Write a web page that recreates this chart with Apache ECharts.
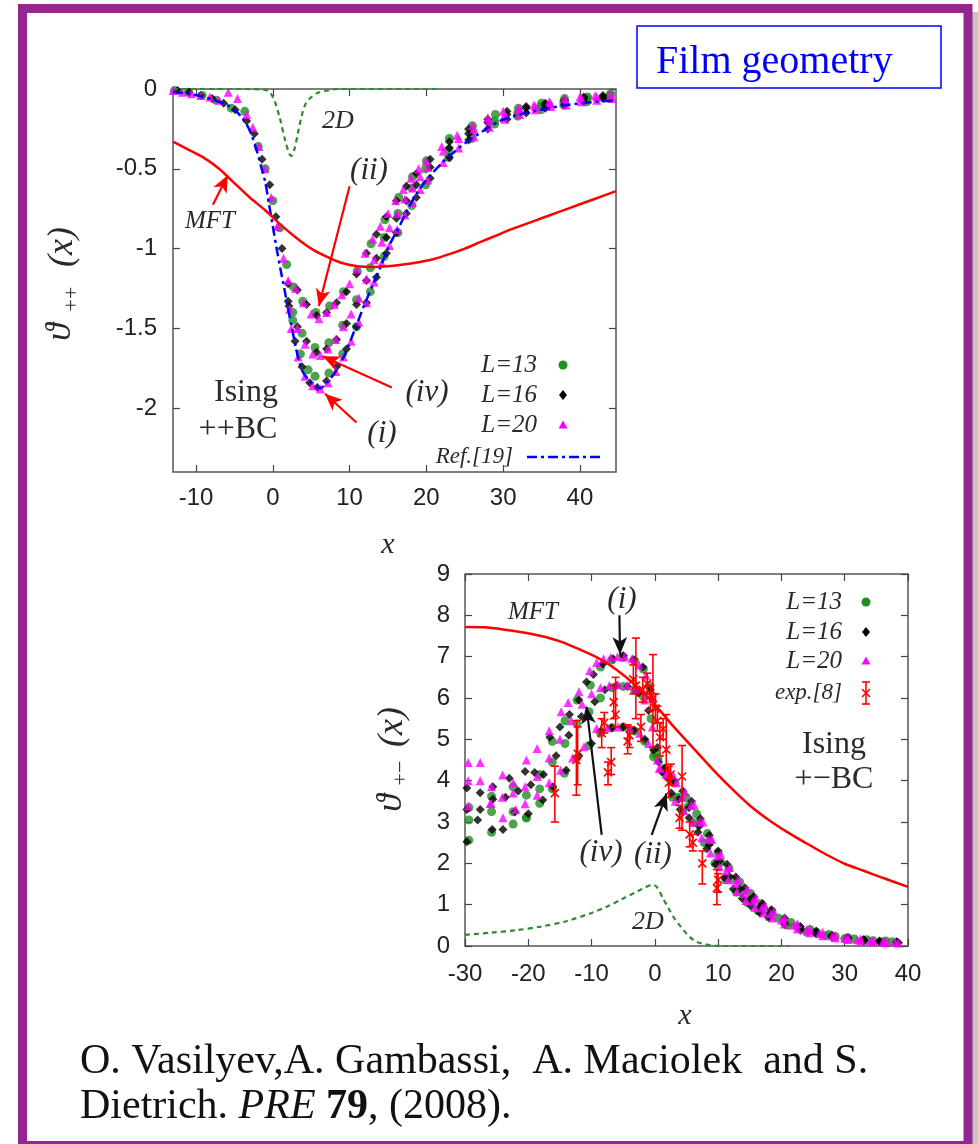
<!DOCTYPE html>
<html>
<head>
<meta charset="utf-8">
<title>Film geometry</title>
<script src="https://cdn.jsdelivr.net/npm/echarts@6/dist/echarts.min.js"></script>
<style>
  html, body { margin: 0; padding: 0; background: #fff; }
  #main { width: 978px; height: 1144px; }
</style>
</head>
<body>
<div id="main"></div>
<script>
// tick labels
const topXTicks = [-10, 0, 10, 20, 30, 40]
const topYTicks = [-2, -1.5, -1, -0.5, 0]
const botXTicks = [-30, -20, -10, 0, 10, 20, 30, 40]
const botYTicks = [0, 1, 2, 3, 4, 5, 6, 7, 8, 9]

// ---- top panel (++ BC) ----
const topMFT = [[-13,-0.33],[-11,-0.38],[-9,-0.43],[-7,-0.5],[-5,-0.59],[-3,-0.68],[-1,-0.76],[1,-0.85],[3,-0.93],[5,-1.0],[7,-1.05],[9,-1.09],[11,-1.11],[13,-1.115],[15,-1.11],[17,-1.1],[19,-1.085],[21,-1.065],[23,-1.035],[25,-1.0],[27,-0.96],[29,-0.92],[31,-0.88],[33,-0.845],[35,-0.81],[37,-0.775],[39,-0.74],[41,-0.705],[43,-0.67],[44.7,-0.64]]
const top2D = [[-13,0],[-4,0],[-1,-0.005],[-0.4,-0.02],[0.2,-0.07],[0.9,-0.18],[1.6,-0.32],[2.1,-0.4],[2.4,-0.42],[2.8,-0.38],[3.3,-0.27],[3.7,-0.18],[4.2,-0.1],[4.8,-0.06],[5.8,-0.025],[7,-0.01],[8.5,0],[21.3,0]]
const topRef19 = [[-13,-0.017],[-11,-0.03],[-9,-0.05],[-7,-0.08],[-6,-0.1],[-5,-0.13],[-4,-0.18],[-3,-0.26],[-2,-0.4],[-1.5,-0.49],[-1,-0.58],[-0.5,-0.72],[0,-0.86],[0.5,-1.0],[1,-1.13],[1.5,-1.25],[2,-1.38],[2.5,-1.5],[3,-1.62],[3.5,-1.72],[4,-1.78],[4.8,-1.83],[5.7,-1.87],[6.2,-1.875],[7,-1.84],[7.9,-1.79],[8.8,-1.72],[9.6,-1.64],[10.5,-1.53],[11.3,-1.43],[12.2,-1.32],[13.1,-1.22],[14,-1.12],[14.8,-1.02],[15.7,-0.93],[16.6,-0.85],[17.6,-0.75],[18.7,-0.66],[20,-0.57],[21.8,-0.475],[23.5,-0.4],[25.3,-0.33],[27.5,-0.26],[29.6,-0.2],[31.7,-0.165],[33.9,-0.14],[36,-0.12],[38.3,-0.1],[41,-0.085],[44.7,-0.07]]

const top13Desc = [[-12.8,-0.01],[-11.0,-0.02],[-9.2,-0.04],[-7.4,-0.07],[-5.4,-0.12],[-3.65,-0.14],[-1.9,-0.36],[-1.0,-0.5],[0.0,-0.7],[0.9,-0.87],[1.8,-1.1]]
const top13ii = [[2.7,-1.24],[3.9,-1.33],[5.6,-1.4],[7.4,-1.36],[9.2,-1.27],[11.0,-1.14],[12.8,-0.97],[14.6,-0.82],[16.4,-0.68],[18.2,-0.55],[20.0,-0.45],[23.0,-0.31],[26.0,-0.23],[29.0,-0.16],[32.0,-0.12],[35.0,-0.09],[38.0,-0.06],[41.0,-0.05],[44.0,-0.03]]
const top13iv = [[2.6,-1.4],[3.8,-1.53],[5.5,-1.62],[7.3,-1.59],[9.1,-1.48],[10.9,-1.32],[12.7,-1.12],[14.5,-0.93],[16.3,-0.78],[18.1,-0.62],[19.9,-0.5],[22.9,-0.38],[25.9,-0.27],[28.9,-0.2],[31.9,-0.15],[34.9,-0.11],[37.9,-0.08],[40.9,-0.06],[43.9,-0.04]]
const top13i = [[2.6,-1.45],[3.6,-1.66],[4.6,-1.76],[5.5,-1.8],[7.3,-1.78],[9.1,-1.66],[10.9,-1.49],[12.7,-1.27],[14.5,-1.05],[16.3,-0.9],[18.1,-0.73],[19.9,-0.6],[22.9,-0.43],[25.9,-0.31],[28.9,-0.22],[31.9,-0.17],[34.9,-0.13],[37.9,-0.1],[40.9,-0.08],[43.9,-0.06]]

const top16Desc = [[-12.4,-0.01],[-10.9,-0.02],[-9.4,-0.04],[-7.9,-0.06],[-6.4,-0.09],[-4.9,-0.13],[-3.4,-0.2],[-2.4,-0.28],[-1.4,-0.44],[-0.4,-0.6],[0.4,-0.8],[1.2,-1.0]]
const top16ii = [[2.0,-1.22],[3.2,-1.26],[4.4,-1.35],[5.7,-1.42],[7.0,-1.4],[8.3,-1.34],[9.6,-1.27],[10.9,-1.16],[12.2,-1.03],[13.5,-0.91],[14.8,-0.8],[16.1,-0.7],[17.4,-0.61],[18.7,-0.53],[20.5,-0.44],[23.0,-0.33],[25.5,-0.25],[28.0,-0.19],[30.5,-0.14],[33.0,-0.11],[35.5,-0.09],[38.0,-0.07],[40.5,-0.05],[43.0,-0.04]]
const top16iv = [[2.1,-1.36],[3.2,-1.49],[4.4,-1.58],[5.7,-1.65],[7.0,-1.63],[8.3,-1.57],[9.6,-1.47],[10.9,-1.35],[12.2,-1.2],[13.5,-1.06],[14.8,-0.93],[16.1,-0.81],[17.4,-0.7],[18.7,-0.6],[20.5,-0.49],[23.0,-0.37],[25.5,-0.28],[28.0,-0.21],[30.5,-0.16],[33.0,-0.12],[35.5,-0.1],[38.0,-0.08],[40.5,-0.06],[43.0,-0.05]]
const top16i = [[2.0,-1.33],[2.9,-1.58],[3.8,-1.74],[4.8,-1.84],[5.8,-1.87],[7.0,-1.83],[8.3,-1.74],[9.6,-1.63],[10.9,-1.49],[12.2,-1.34],[13.5,-1.18],[14.8,-1.03],[16.1,-0.9],[17.4,-0.78],[18.7,-0.68],[20.5,-0.56],[23.0,-0.43],[25.5,-0.32],[28.0,-0.25],[30.5,-0.19],[33.0,-0.15],[35.5,-0.12],[38.0,-0.1],[40.5,-0.08],[43.0,-0.06]]

const top20Desc = [[-13.0,-0.01],[-11.8,-0.02],[-10.6,-0.03],[-9.4,-0.04],[-8.2,-0.05],[-7.0,-0.07],[-5.8,-0.02],[-4.6,-0.06],[-3.4,-0.16],[-2.6,-0.24],[-1.8,-0.36],[-1.0,-0.5],[-0.2,-0.68],[0.6,-0.86],[1.4,-1.06]]
const top20ii = [[2.0,-1.2],[3.0,-1.25],[4.0,-1.34],[5.0,-1.41],[6.0,-1.44],[7.0,-1.4],[8.0,-1.35],[9.0,-1.29],[10.0,-1.22],[11.0,-1.13],[12.0,-1.03],[13.0,-0.94],[14.0,-0.86],[15.0,-0.78],[16.0,-0.7],[17.0,-0.63],[18.0,-0.56],[19.0,-0.5],[20.0,-0.45],[22.0,-0.36],[24.0,-0.29],[26.0,-0.23],[28.0,-0.18],[30.0,-0.14],[32.0,-0.12],[34.0,-0.1],[36.0,-0.08],[38.0,-0.06],[40.0,-0.05],[42.0,-0.04],[44.0,-0.03]]
const top20iv = [[2.2,-1.38],[3.2,-1.5],[4.2,-1.6],[5.2,-1.66],[6.2,-1.67],[7.2,-1.63],[8.2,-1.57],[9.2,-1.49],[10.2,-1.41],[11.2,-1.31],[12.2,-1.19],[13.2,-1.07],[14.2,-0.96],[15.2,-0.87],[16.2,-0.78],[17.2,-0.69],[18.2,-0.62],[19.2,-0.55],[20.2,-0.49],[22.2,-0.39],[24.2,-0.31],[26.2,-0.25],[28.2,-0.2],[30.2,-0.16],[32.2,-0.13],[34.2,-0.11],[36.2,-0.09],[38.2,-0.08],[40.2,-0.06],[42.2,-0.05]]
const top20i = [[2.4,-1.5],[3.3,-1.68],[4.2,-1.8],[5.2,-1.86],[6.2,-1.88],[7.2,-1.84],[8.2,-1.77],[9.2,-1.68],[10.2,-1.58],[11.2,-1.46],[12.2,-1.34],[13.2,-1.21],[14.2,-1.09],[15.2,-0.98],[16.2,-0.88],[17.2,-0.79],[18.2,-0.71],[19.2,-0.63],[20.2,-0.57],[22.2,-0.46],[24.2,-0.37],[26.2,-0.3],[28.2,-0.24],[30.2,-0.19],[32.2,-0.16],[34.2,-0.13],[36.2,-0.11],[38.2,-0.1],[40.2,-0.08],[42.2,-0.07],[44.2,-0.06]]

// ---- bottom panel (+- BC) ----
const botMFT = [[-30,7.72],[-27,7.71],[-24,7.66],[-21,7.59],[-18,7.5],[-15,7.37],[-12,7.18],[-9,6.97],[-6,6.68],[-3,6.3],[0,5.84],[3,5.3],[6,4.8],[9,4.3],[12,3.83],[15,3.4],[18,3.05],[21,2.75],[24,2.48],[27,2.22],[30,1.99],[33,1.82],[36,1.65],[40,1.43]]
const bot2D = [[-30,0.27],[-26,0.32],[-22,0.38],[-18,0.47],[-14,0.6],[-10,0.8],[-7.6,0.95],[-5,1.15],[-3,1.3],[-1.5,1.42],[-0.4,1.48],[0.3,1.43],[1.3,1.15],[2.2,0.9],[2.9,0.71],[3.7,0.54],[4.5,0.39],[5.5,0.22],[6.6,0.1],[8,0.04],[9.5,0.01],[11,0],[21.3,0]]

const bot13i = [[-29.4,3.35],[-25.8,3.62],[-22.4,3.85],[-20.3,3.65],[-18.2,4.15],[-16.2,4.95],[-14.2,5.45],[-12.3,5.95],[-10.2,6.31],[-8.6,6.75],[-6.8,6.92],[-5.0,6.98],[-3.2,6.9],[-1.8,6.7],[-0.9,6.3],[0.0,4.66],[1.5,4.3],[3.2,3.95],[4.9,3.6],[6.6,3.2],[8.3,2.72],[10.0,2.25],[11.7,1.88],[13.4,1.55],[15.1,1.27],[16.8,1.02],[18.5,0.84],[21.5,0.57],[24.5,0.4],[27.5,0.28],[30.5,0.2],[33.5,0.15],[36.5,0.12]]
const bot13iv = [[-29.4,3.05],[-25.8,3.25],[-22.4,3.25],[-20.3,3.1],[-18.2,3.8],[-16.2,4.45],[-14.2,4.9],[-12.3,5.38],[-10.4,5.67],[-8.6,6.0],[-6.8,6.25],[-5.0,6.28],[-3.2,6.18],[-1.8,6.03],[-0.6,5.5],[0.5,4.55],[2.0,4.1],[3.6,3.6],[5.3,3.38],[7.0,2.95],[8.7,2.52],[10.4,2.02],[12.1,1.62],[13.8,1.32],[15.5,1.08],[17.2,0.88],[19.5,0.68],[22.5,0.47],[25.5,0.33],[28.5,0.23],[31.5,0.17],[34.5,0.13],[37.5,0.1]]
const bot13ii = [[-29.4,2.56],[-25.8,2.75],[-22.4,2.95],[-20.3,3.1],[-18.2,3.45],[-16.2,3.8],[-14.3,4.18],[-12.3,4.55],[-10.4,4.85],[-8.6,5.15],[-6.8,5.28],[-5.0,5.3],[-3.2,5.2],[-1.6,4.95],[-0.2,4.58],[1.3,4.25],[2.8,3.6],[4.4,3.25],[6.1,2.98],[7.8,2.5],[9.5,2.0],[11.2,1.6],[12.9,1.3],[14.6,1.05],[16.3,0.85],[18.0,0.7],[21.0,0.5],[24.0,0.34],[27.0,0.25],[30.0,0.18],[33.0,0.13],[36.0,0.1]]

const bot16i = [[-29.7,3.82],[-27.6,3.71],[-25.6,3.85],[-23.0,4.06],[-20.5,4.22],[-19.0,4.2],[-16.6,5.05],[-15.0,5.3],[-13.5,5.6],[-12.0,5.95],[-10.8,6.39],[-9.7,6.57],[-8.2,6.82],[-6.6,6.95],[-5.0,7.03],[-3.4,6.93],[-1.9,6.75],[-0.7,6.2],[0.4,4.8],[1.6,4.3],[3.0,4.0],[4.4,3.75],[5.8,3.5],[7.2,3.08],[8.6,2.68],[10.0,2.3],[11.4,1.98],[12.8,1.67],[14.2,1.41],[15.6,1.2],[17.0,1.02],[18.4,0.88],[20.5,0.68],[23.0,0.47],[25.5,0.36],[28.0,0.26],[30.5,0.2],[33.0,0.16],[35.5,0.12],[38.2,0.1]]
const bot16iv = [[-29.7,3.3],[-27.6,3.3],[-25.6,3.55],[-23.6,3.6],[-21.6,3.75],[-19.6,3.9],[-17.6,4.15],[-15.6,4.6],[-13.6,5.1],[-11.6,5.55],[-9.5,5.91],[-7.9,6.2],[-6.1,6.3],[-4.3,6.28],[-2.6,6.12],[-1.0,5.7],[0.6,4.45],[2.2,4.05],[3.8,3.55],[5.4,3.35],[7.0,2.9],[8.6,2.45],[10.2,2.05],[11.8,1.68],[13.4,1.38],[15.0,1.12],[16.6,0.94],[18.2,0.79],[20.5,0.58],[23.0,0.43],[25.5,0.32],[28.0,0.23],[30.5,0.18],[33.0,0.14],[35.5,0.11],[38.2,0.09]]
const bot16ii = [[-29.7,2.52],[-28.0,3.05],[-25.7,2.82],[-24.0,2.82],[-22.1,3.25],[-20.0,3.2],[-17.7,3.53],[-16.1,3.85],[-14.0,4.25],[-12.0,4.6],[-10.0,4.9],[-8.5,5.2],[-6.8,5.28],[-5.0,5.3],[-3.3,5.22],[-1.6,5.0],[-0.2,4.74],[1.2,4.2],[2.6,3.7],[4.0,3.3],[5.4,3.1],[6.8,2.75],[8.2,2.35],[9.6,1.98],[11.0,1.66],[12.4,1.38],[13.8,1.15],[15.2,0.96],[16.6,0.8],[18.0,0.7],[20.5,0.52],[23.0,0.38],[25.5,0.29],[28.0,0.22],[30.5,0.17],[33.0,0.13],[35.5,0.1],[38.5,0.08]]

const bot20i = [[-29.5,4.44],[-27.6,4.44],[-25.8,3.85],[-24.05,4.14],[-22.4,3.95],[-20.3,4.5],[-18.6,4.78],[-16.7,5.21],[-14.8,5.67],[-13.7,5.89],[-12.0,6.15],[-10.3,6.66],[-9.2,6.86],[-8.1,6.95],[-7.0,6.98],[-5.9,7.0],[-4.8,7.0],[-3.6,6.95],[-2.5,6.8],[-1.4,6.55],[-0.4,6.0],[0.7,4.3],[2.0,4.18],[3.4,3.95],[4.8,3.72],[6.2,3.42],[7.6,3.0],[9.0,2.58],[10.4,2.22],[11.8,1.9],[13.2,1.6],[14.6,1.38],[16.0,1.16],[17.4,0.98],[18.8,0.83],[20.5,0.68],[22.5,0.54],[24.5,0.42],[26.5,0.33],[28.5,0.26],[30.5,0.21],[32.5,0.17],[34.5,0.14],[36.5,0.12]]
const bot20iv = [[-29.5,4.0],[-27.6,4.0],[-25.9,3.45],[-24.1,3.6],[-22.4,3.7],[-20.5,3.85],[-18.6,4.1],[-16.7,4.55],[-15.0,5.0],[-13.2,5.45],[-11.5,5.85],[-10.0,6.1],[-8.6,6.25],[-7.2,6.3],[-5.8,6.32],[-4.4,6.3],[-3.0,6.22],[-1.6,5.95],[-0.4,5.3],[0.8,4.3],[2.9,4.14],[4.3,3.6],[5.7,3.4],[7.1,3.0],[8.5,2.58],[9.9,2.18],[11.3,1.82],[12.7,1.52],[14.1,1.27],[15.5,1.08],[16.9,0.92],[18.3,0.78],[20.0,0.63],[22.0,0.5],[24.0,0.39],[26.0,0.3],[28.0,0.24],[30.0,0.19],[32.0,0.15],[34.0,0.12],[36.0,0.1],[38.0,0.09]]
const bot20ii = [[-29.5,3.39],[-26.0,3.45],[-24.0,3.1],[-22.0,3.3],[-20.5,3.44],[-18.6,3.65],[-16.7,3.95],[-14.9,4.25],[-13.0,4.55],[-11.2,4.82],[-9.2,5.26],[-7.5,5.28],[-5.8,5.3],[-4.0,5.28],[-2.4,5.15],[-1.0,4.9],[0.4,4.5],[1.8,4.15],[3.2,3.5],[4.6,3.28],[6.0,3.0],[7.4,2.62],[8.8,2.25],[10.2,1.92],[11.6,1.6],[13.0,1.32],[14.4,1.1],[15.8,0.93],[17.2,0.8],[18.6,0.68],[20.5,0.53],[22.5,0.41],[24.5,0.32],[26.5,0.25],[28.5,0.2],[30.5,0.16],[32.5,0.12],[34.5,0.1],[36.5,0.08],[38.5,0.07]]

// exp.[8]: x, value, lower end, upper end
const expData = [[-15.8,3.7,3.0,4.35],[-12.4,4.5,3.65,5.45],[-12.2,4.65,3.9,5.3],[-8.4,5.15,4.8,5.5],[-8.0,5.4,5.15,5.65],[-7.4,4.2,3.9,4.45],[-6.9,4.45,4.15,4.8],[-6.5,5.9,5.5,6.3],[-6.2,5.6,5.3,6.5],[-4.3,4.95,4.65,5.35],[-4.0,5.1,4.8,5.3],[-3.4,6.45,6.1,6.8],[-3.0,6.3,5.5,7.45],[-2.2,5.3,4.95,5.6],[-1.9,6.2,5.9,6.5],[-1.2,6.35,6.1,6.6],[-0.7,6.05,5.7,6.3],[-0.3,6.0,4.8,7.05],[0.1,5.75,5.4,6.1],[0.4,5.45,5.2,5.8],[0.8,5.05,4.6,5.4],[1.3,5.25,5.0,5.5],[1.8,4.75,4.25,5.6],[2.2,3.95,3.6,4.35],[2.5,4.15,3.9,4.4],[3.9,3.1,2.85,3.4],[4.3,4.1,2.8,4.85],[5.5,2.7,2.4,3.0],[6.0,2.5,2.3,2.7],[7.5,2.0,1.5,2.3],[9.8,1.4,1.0,1.85],[10.0,1.6,1.3,1.75]]

// annotation arrows [from, to] in data units
const topArrows = [[[-7.8,-0.725],[-5.87,-0.54]],[[10.0,-0.61],[6.0,-1.36]],[[15.5,-1.87],[6.5,-1.675]],[[10.9,-2.09],[6.8,-1.91]]]
const botArrows = [[[-5.6,8.0],[-5.5,7.06]],[[-8.4,2.69],[-10.8,5.79]],[[-0.5,2.69],[1.86,3.69]]]

const GREEN = '#1f8f1f'
const MAGENTA = '#ff00ff'
const RED = '#ff0000'
const BLUE = '#0000ff'
const DASHGREEN = '#2e8b2e'
const SANS = 'Liberation Sans, Arial, sans-serif'
const SERIF = 'Liberation Serif, Times New Roman, serif'

function valAxis(grid, pos, min, max, ticks, showLabel, margin) {
  return {
    type: 'value', gridIndex: grid, position: pos, min: min, max: max,
    axisLine: { show: false, onZero: false },
    splitLine: { show: false },
    axisTick: { show: true, inside: true, length: 7, lineStyle: { color: '#444', width: 1.2 }, customValues: ticks },
    axisLabel: { show: showLabel, customValues: ticks, margin: margin, color: '#222', fontSize: 24, fontFamily: SANS },
  }
}

function arrowLines(list, color) {
  return {
    silent: true,
    symbol: ['none', 'arrow'],
    symbolSize: [11, 17],
    label: { show: false },
    lineStyle: { color: color, width: 2.2, type: 'solid' },
    data: list.map(a => [{ coord: a[0] }, { coord: a[1] }]),
  }
}

function scatter(name, xi, yi, data, symbol, color, size) {
  return {
    name: name, type: 'scatter', xAxisIndex: xi, yAxisIndex: yi,
    data: data, symbol: symbol, symbolSize: size,
    itemStyle: { color: color }, z: 3,
  }
}

function line(name, xi, yi, data, color, width, dash, z) {
  return {
    name: name, type: 'line', xAxisIndex: xi, yAxisIndex: yi,
    data: data, smooth: 0.3, showSymbol: false, symbol: 'none',
    lineStyle: { color: color, width: width, type: dash }, z: z,
  }
}

function renderErr(params, api) {
  const p = api.coord([api.value(0), api.value(1)])
  const lo = api.coord([api.value(0), api.value(2)])
  const hi = api.coord([api.value(0), api.value(3)])
  const st = { stroke: RED, lineWidth: 1.6 }
  const c = 4
  return {
    type: 'group',
    children: [
      { type: 'line', shape: { x1: lo[0], y1: lo[1], x2: hi[0], y2: hi[1] }, style: st },
      { type: 'line', shape: { x1: lo[0] - c, y1: lo[1], x2: lo[0] + c, y2: lo[1] }, style: st },
      { type: 'line', shape: { x1: hi[0] - c, y1: hi[1], x2: hi[0] + c, y2: hi[1] }, style: st },
      { type: 'line', shape: { x1: p[0] - c, y1: p[1] - c, x2: p[0] + c, y2: p[1] + c }, style: st },
      { type: 'line', shape: { x1: p[0] - c, y1: p[1] + c, x2: p[0] + c, y2: p[1] - c }, style: st },
    ],
  }
}

function txt(x, y, text, font, color, align, rot) {
  return {
    type: 'text', x: x, y: y, rotation: rot || 0, z: 20,
    style: { text: text, font: font, fill: color || '#2a2a2a', align: align || 'center', verticalAlign: 'middle' },
  }
}

const ital = (s) => 'italic ' + s + 'px ' + SERIF
const roman = (s) => s + 'px ' + SERIF
const R90 = Math.PI / 2

const graphics = [
  // slide frame + shadow
  { type: 'rect', shape: { x: 972, y: 12, width: 6, height: 1132 }, style: { fill: '#c4c4c4' } },
  { type: 'rect', shape: { x: 22.5, y: 8.5, width: 945.5, height: 1137 }, style: { fill: 'none', stroke: '#93278f', lineWidth: 9 } },
  // title box
  { type: 'rect', shape: { x: 637, y: 26, width: 304, height: 62 }, style: { fill: '#fff', stroke: BLUE, lineWidth: 1.5 } },
  txt(656, 62, 'Film geometry', roman(40), BLUE, 'left'),
  // top panel labels
  txt(338, 121, '2D', ital(26)),
  txt(210, 221, 'MFT', ital(25)),
  txt(369, 171, '(ii)', ital(31)),
  txt(427, 393, '(iv)', ital(31)),
  txt(382, 434, '(i)', ital(31)),
  txt(246, 393, 'Ising', roman(32)),
  txt(238, 430, '++BC', roman(32)),
  txt(537, 365, 'L=13', ital(25), null, 'right'),
  txt(537, 395, 'L=16', ital(25), null, 'right'),
  txt(537, 425, 'L=20', ital(25), null, 'right'),
  txt(513, 457, 'Ref.[19]', ital(23), null, 'right'),
  { type: 'circle', shape: { cx: 563, cy: 365, r: 4.5 }, style: { fill: GREEN }, z: 20 },
  { type: 'polygon', shape: { points: [[563, 390], [567, 395], [563, 400], [559, 395]] }, style: { fill: '#000' }, z: 20 },
  { type: 'polygon', shape: { points: [[563, 420.5], [567.5, 428.5], [558.5, 428.5]] }, style: { fill: MAGENTA }, z: 20 },
  { type: 'line', shape: { x1: 527, y1: 457, x2: 600, y2: 457 }, style: { stroke: BLUE, lineWidth: 2.5, lineDash: [10, 4, 3, 4] }, z: 20 },
  // axis titles
  txt(388, 545, 'x', ital(30)),
  txt(685, 1016, 'x', ital(30)),
  txt(61, 332, 'ϑ', ital(36), '#2a2a2a', 'center', R90),
  txt(72, 299, '++', roman(22), '#2a2a2a', 'center', R90),
  txt(63, 247, '(x)', ital(36), '#2a2a2a', 'center', R90),
  txt(392, 803, 'ϑ', ital(36), '#2a2a2a', 'center', R90),
  txt(401, 773, '+−', roman(22), '#2a2a2a', 'center', R90),
  txt(393, 727, '(x)', ital(36), '#2a2a2a', 'center', R90),
  // bottom panel labels
  txt(533, 612, 'MFT', ital(25)),
  txt(622, 600, '(i)', ital(31)),
  txt(601, 853, '(iv)', ital(31)),
  txt(653, 855, '(ii)', ital(31)),
  txt(648, 922, '2D', ital(26)),
  txt(834, 745, 'Ising', roman(32)),
  txt(834, 780, '+−BC', roman(32)),
  txt(842, 602, 'L=13', ital(25), null, 'right'),
  txt(842, 632, 'L=16', ital(25), null, 'right'),
  txt(842, 661, 'L=20', ital(25), null, 'right'),
  txt(842, 693, 'exp.[8]', ital(23), null, 'right'),
  { type: 'circle', shape: { cx: 866, cy: 602, r: 4.5 }, style: { fill: GREEN }, z: 20 },
  { type: 'polygon', shape: { points: [[866, 627], [870, 632], [866, 637], [862, 632]] }, style: { fill: '#000' }, z: 20 },
  { type: 'polygon', shape: { points: [[866, 656.5], [870.5, 664.5], [861.5, 664.5]] }, style: { fill: MAGENTA }, z: 20 },
  { type: 'group', z: 20, children: [
    { type: 'line', shape: { x1: 866, y1: 682, x2: 866, y2: 704 }, style: { stroke: RED, lineWidth: 1.6 } },
    { type: 'line', shape: { x1: 862, y1: 682, x2: 870, y2: 682 }, style: { stroke: RED, lineWidth: 1.6 } },
    { type: 'line', shape: { x1: 862, y1: 704, x2: 870, y2: 704 }, style: { stroke: RED, lineWidth: 1.6 } },
    { type: 'line', shape: { x1: 862, y1: 689, x2: 870, y2: 697 }, style: { stroke: RED, lineWidth: 1.6 } },
    { type: 'line', shape: { x1: 862, y1: 697, x2: 870, y2: 689 }, style: { stroke: RED, lineWidth: 1.6 } },
  ] },
  // citation
  txt(80, 1062, 'O. Vasilyev,A. Gambassi,  A. Maciolek  and S.', roman(42), '#111', 'left'),
  {
    type: 'text', x: 80, y: 1107, z: 20,
    style: {
      text: '{n|Dietrich. }{i|PRE}{n| }{b|79}{n|, (2008).}',
      verticalAlign: 'middle', align: 'left',
      rich: {
        n: { fontFamily: SERIF, fontSize: 42, fill: '#111' },
        i: { fontFamily: SERIF, fontSize: 42, fontStyle: 'italic', fill: '#111' },
        b: { fontFamily: SERIF, fontSize: 42, fontWeight: 'bold', fill: '#111' },
      },
    },
  },
]

const chart = echarts.init(document.getElementById('main'))
const option = {
  animation: false,
  backgroundColor: '#fff',
  grid: [
    { left: 173, top: 89, width: 443, height: 383, show: true, borderColor: '#555', borderWidth: 1.5, backgroundColor: 'transparent', outerBoundsMode: 'none' },
    { left: 465, top: 574, width: 443, height: 372, show: true, borderColor: '#555', borderWidth: 1.5, backgroundColor: 'transparent', outerBoundsMode: 'none' },
  ],
  xAxis: [
    valAxis(0, 'bottom', -13, 44.7, topXTicks, true, 14),
    valAxis(0, 'top', -13, 44.7, topXTicks, false, 8),
    valAxis(1, 'bottom', -30, 40, botXTicks, true, 16),
    valAxis(1, 'top', -30, 40, botXTicks, false, 8),
  ],
  yAxis: [
    valAxis(0, 'left', -2.4, 0, topYTicks, true, 16),
    valAxis(0, 'right', -2.4, 0, topYTicks, false, 8),
    valAxis(1, 'left', 0, 9, botYTicks, true, 15),
    valAxis(1, 'right', 0, 9, botYTicks, false, 8),
  ],
  series: [
    scatter('L=13', 0, 0, [].concat(top13Desc, top13ii, top13iv, top13i), 'circle', GREEN, 9),
    scatter('L=16', 0, 0, [].concat(top16Desc, top16ii, top16iv, top16i), 'diamond', '#000', 9),
    scatter('L=20', 0, 0, [].concat(top20Desc, top20ii, top20iv, top20i), 'triangle', MAGENTA, 9),
    line('Ref.[19]', 0, 0, topRef19, BLUE, 2.5, [10, 4, 3, 4], 4),
    line('2D', 0, 0, top2D, DASHGREEN, 2.2, [5, 4], 4),
    Object.assign(line('MFT', 0, 0, topMFT, RED, 2.5, 'solid', 5), { markLine: arrowLines(topArrows, RED) }),

    scatter('L=13', 2, 2, [].concat(bot13i, bot13iv, bot13ii), 'circle', GREEN, 9),
    scatter('L=16', 2, 2, [].concat(bot16i, bot16iv, bot16ii), 'diamond', '#000', 9),
    scatter('L=20', 2, 2, [].concat(bot20i, bot20iv, bot20ii), 'triangle', MAGENTA, 9),
    {
      name: 'exp.[8]', type: 'custom', xAxisIndex: 2, yAxisIndex: 2,
      data: expData, renderItem: renderErr, encode: { x: 0, y: [1, 2, 3] }, z: 4,
    },
    line('2D', 2, 2, bot2D, DASHGREEN, 2.2, [5, 4], 4),
    Object.assign(line('MFT', 2, 2, botMFT, RED, 2.5, 'solid', 5), { markLine: arrowLines(botArrows, '#111') }),
  ],
  graphic: { elements: graphics },
}
chart.setOption(option)
</script>
</body>
</html>
